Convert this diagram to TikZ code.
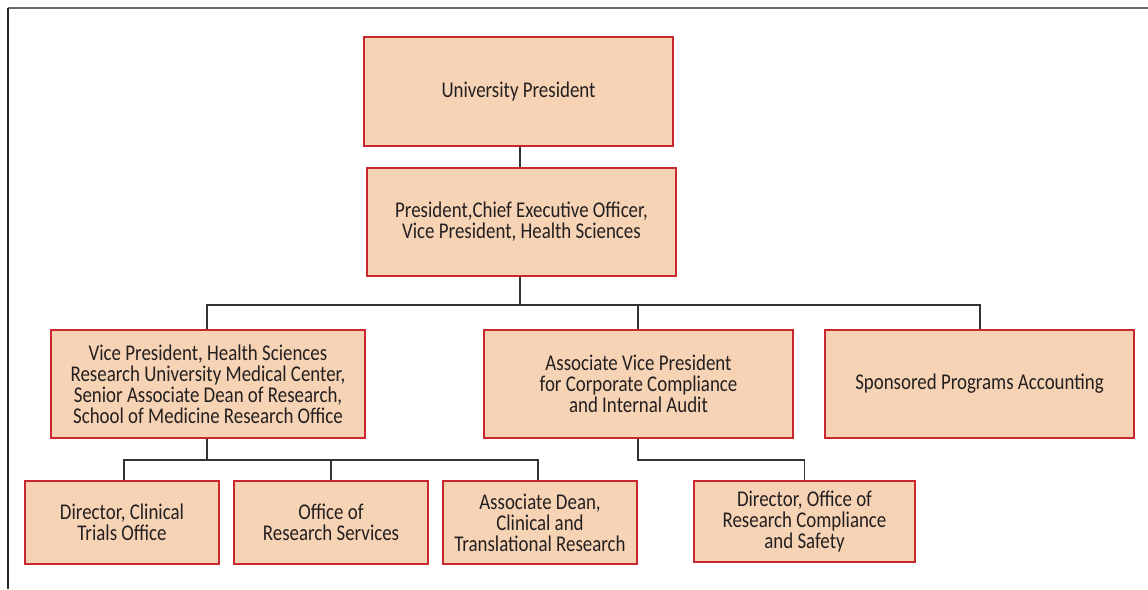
\documentclass[tikz,border=0pt]{standalone}
\usepackage{fontspec}
\setmainfont{Carlito}[FakeStretch=0.84]
\definecolor{boxfill}{HTML}{F7D3B5}
\definecolor{boxline}{HTML}{C8282E}
\definecolor{txt}{HTML}{231F20}
\definecolor{conn}{HTML}{333333}
\begin{document}
\begin{tikzpicture}[x=1pt,y=1pt,
  box/.style={draw=boxline, fill=boxfill, line width=1.2pt, align=center,
    text=txt, font=\fontsize{22.5}{21}\selectfont, inner sep=0pt},
  conn/.style={draw=conn, line width=1.1pt}]
\useasboundingbox (0,0) rectangle (1148,-589);
\fill[white] (0,0) rectangle (1148,-589);
\draw[line width=2pt, draw=black!60] (8,-8) -- (1148,-8);
\draw[line width=1.4pt, draw=black!85] (8,-8) -- (8,-589);

\node[box, minimum width=309, minimum height=109] (up) at (518.5,-91.5) {University President};
\node[box, minimum width=309, minimum height=108] (ceo) at (521.5,-222) {President,Chief Executive Officer,\\Vice President, Health Sciences};
\node[box, minimum width=314, minimum height=108] (vphs) at (208,-384) {Vice President, Health Sciences\\Research University Medical Center,\\Senior Associate Dean of Research,\\School of Medicine Research Office};
\node[box, minimum width=309, minimum height=108] (avp) at (638.5,-384) {Associate Vice President\\for Corporate Compliance\\and Internal Audit};
\node[box, minimum width=309, minimum height=108] (spa) at (979.5,-384) {Sponsored Programs Accounting};
\node[box, minimum width=194, minimum height=83] (dcto) at (122,-522.5) {Director, Clinical\\Trials Office};
\node[box, minimum width=194, minimum height=83] (ors) at (331,-522.5) {Office of\\Research Services};
\node[box, minimum width=194, minimum height=83] (adc) at (540,-522.5) {Associate Dean,\\Clinical and\\Translational Research};
\node[box, minimum width=221, minimum height=81] (dorcs) at (804.5,-521.5) {Director, Office of\\Research Compliance\\and Safety};

\coordinate (b1) at (520,-305);
\coordinate (b2) at (207,-460);
\coordinate (b3) at (638,-460);

\draw[conn] (up.south -| b1) -- (ceo.north -| b1);
\draw[conn] (ceo.south -| b1) -- (b1);
\draw[conn] (vphs.north -| 207,0) |- (b1) -| (avp.north -| 638,0);
\draw[conn] (b1) -| (spa.north -| 980,0);
\draw[conn] (vphs.south -| b2) -- (b2);
\draw[conn] (dcto.north -| 124,0) |- (b2) -| (ors.north);
\draw[conn] (b2) -| (adc.north -| 538,0);
\draw[conn] (avp.south -| b3) -- (b3) -| (dorcs.north);
\end{tikzpicture}
\end{document}
